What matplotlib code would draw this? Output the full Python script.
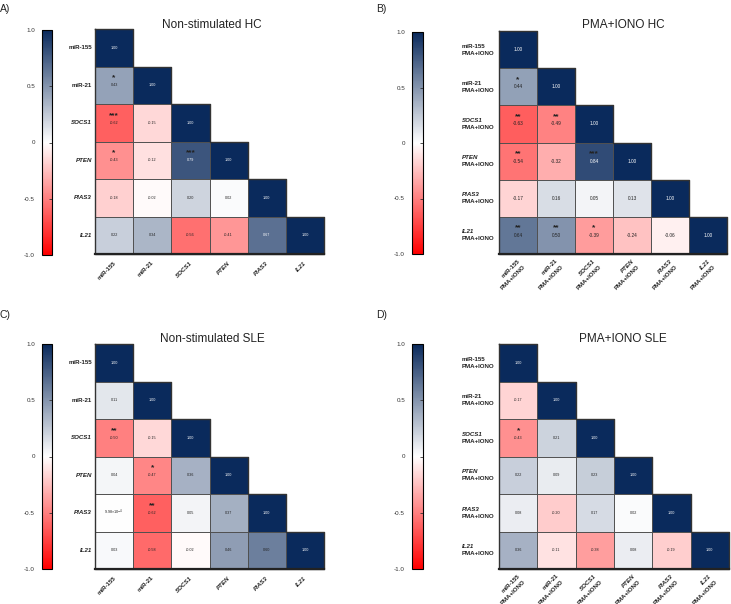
import numpy as np
import matplotlib
matplotlib.use("Agg")
import matplotlib.pyplot as plt
from matplotlib.colors import LinearSegmentedColormap
from matplotlib.patches import Rectangle
from matplotlib.transforms import offset_copy
import matplotlib.cm as cm

plt.rcParams['font.family'] = ['Liberation Sans', 'DejaVu Sans']

genes = ["miR-155", "miR-21", "SOCS1", "PTEN", "PIAS3", "IL21"]
italic_genes = ["SOCS1", "PTEN", "PIAS3", "IL21"]

# lower triangle, row by row (row gene vs column gene)
hc_rest = [
    [1.00],
    [0.43, 1.00],
    [-0.62, -0.15, 1.00],
    [-0.43, -0.12, 0.79, 1.00],
    [-0.18, -0.02, 0.20, 0.02, 1.00],
    [0.22, 0.34, -0.56, -0.41, 0.67, 1.00],
]
hc_rest_stars = [
    [""],
    ["*", ""],
    ["***", "", ""],
    ["*", "", "***", ""],
    ["", "", "", "", ""],
    ["", "", "", "", "", ""],
]
hc_pma = [
    [1.00],
    [0.44, 1.00],
    [-0.63, -0.49, 1.00],
    [-0.54, -0.32, 0.84, 1.00],
    [-0.17, 0.16, 0.05, 0.13, 1.00],
    [0.64, 0.50, -0.39, -0.24, -0.06, 1.00],
]
hc_pma_stars = [
    [""],
    ["*", ""],
    ["**", "**", ""],
    ["**", "", "***", ""],
    ["", "", "", "", ""],
    ["**", "**", "*", "", "", ""],
]
sle_rest = [
    [1.00],
    [0.11, 1.00],
    [-0.50, -0.15, 1.00],
    [0.04, -0.47, 0.36, 1.00],
    [9.98e-4, -0.62, 0.05, 0.37, 1.00],
    [0.03, -0.58, -0.02, 0.46, 0.60, 1.00],
]
sle_rest_stars = [
    [""],
    ["", ""],
    ["**", "", ""],
    ["", "*", "", ""],
    ["", "**", "", "", ""],
    ["", "", "", "", "", ""],
]
sle_pma = [
    [1.00],
    [-0.17, 1.00],
    [-0.43, 0.21, 1.00],
    [0.22, 0.09, 0.23, 1.00],
    [0.08, -0.20, 0.17, 0.02, 1.00],
    [0.36, -0.11, -0.38, 0.08, -0.19, 1.00],
]
sle_pma_stars = [
    [""],
    ["", ""],
    ["*", "", ""],
    ["", "", "", ""],
    ["", "", "", "", ""],
    ["", "", "", "", "", ""],
]

W, H = 731, 604
fig = plt.figure(figsize=(W / 100, H / 100), dpi=100)
cmap = LinearSegmentedColormap.from_list("rwb", ["#ff0000", "#ffffff", "#0a2a5c"])


def px_axes(x, y, w, h):
    return fig.add_axes([x / W, 1 - (y + h) / H, w / W, h / H])


def fmt(v):
    if v != 0 and abs(v) < 0.005:
        m, e = f"{v:.2e}".split("e")
        return f"{m}×10$^{{{int(e)}}}$"
    return f"{v:.2f}"


def panel(letter, title, vals, stars, cbar_box, heat_box, title_xy, letter_xy,
          stim=False, numsize=2.7):
    n = len(genes)
    M = np.full((n, n), np.nan)
    for i, row in enumerate(vals):
        M[i, :len(row)] = row

    cax = px_axes(*cbar_box)
    sm = cm.ScalarMappable(cmap=cmap, norm=plt.Normalize(-1, 1))
    cb = fig.colorbar(sm, cax=cax)
    cb.set_ticks([-1, -0.5, 0, 0.5, 1])
    cb.set_ticklabels(["-1.0", "-0.5", "0", "0.5", "1.0"])
    cax.tick_params(left=False, right=True, labelleft=True, labelright=False,
                    direction="in", length=2, width=0.6, labelsize=4.5,
                    pad=5, colors="#333333")
    cb.outline.set_linewidth(0.8)

    ax = px_axes(*heat_box)
    ax.pcolormesh(np.arange(n + 1), np.arange(n + 1), np.ma.masked_invalid(M),
                  cmap=cmap, vmin=-1, vmax=1, edgecolors="none")
    ax.set_xlim(0, n)
    ax.set_ylim(n, 0)
    ax.set_axis_off()

    for i in range(n):
        for j in range(i + 1):
            ax.add_patch(Rectangle((j, i), 1, 1, fill=False, edgecolor="#505050",
                                   lw=0.6))

    # staircase outline of the lower triangle
    xs, ys = [0, 0, n], [0, n, n]
    for k in range(n, 0, -1):
        xs += [k, k - 1]
        ys += [k - 1, k - 1]
    ax.plot(xs + [0], ys + [0], color="#333333", lw=1.0, clip_on=False)
    ax.plot([0, n], [n, n], color="#222222", lw=1.6, clip_on=False)

    for i in range(n):
        for j in range(i + 1):
            v = M[i, j]
            tc = "white" if v > 0.66 else "#222222"
            ax.text(j + 0.5, i + 0.5, fmt(v), ha="center", va="center",
                    fontsize=numsize, color=tc)
            if stars[i][j]:
                ax.text(j + 0.5, i + 0.3, stars[i][j], ha="center", va="center",
                        fontsize=6, fontweight="bold", color="#222222")

    for i, g in enumerate(genes):
        style = "italic" if g in italic_genes else "normal"
        if stim:
            ax.text(0, i + 0.5, g, ha="left", va="center", fontsize=4.4,
                    fontweight="bold", fontstyle=style, color="#222222",
                    transform=offset_copy(ax.transData, fig=fig, x=-37 * 0.72,
                                          y=3.5 * 0.72, units="points"))
            ax.text(0, i + 0.5, "PMA+IONO", ha="left", va="center", fontsize=4.4,
                    fontweight="bold", color="#222222",
                    transform=offset_copy(ax.transData, fig=fig, x=-37 * 0.72,
                                          y=-3.5 * 0.72, units="points"))
            ax.text(i + 0.5, n, g, ha="right", va="center", fontsize=4.4,
                    fontweight="bold", fontstyle=style, color="#222222",
                    rotation=45, rotation_mode="anchor",
                    transform=offset_copy(ax.transData, fig=fig, x=1 * 0.72,
                                          y=-6 * 0.72, units="points"))
            ax.text(i + 0.5, n, "PMA+IONO", ha="right", va="center", fontsize=4.4,
                    fontweight="bold", color="#222222",
                    rotation=45, rotation_mode="anchor",
                    transform=offset_copy(ax.transData, fig=fig, x=6.5 * 0.72,
                                          y=-11.5 * 0.72, units="points"))
        else:
            ax.text(0, i + 0.5, g, ha="right", va="center", fontsize=4.4,
                    fontweight="bold", fontstyle=style, color="#222222",
                    transform=offset_copy(ax.transData, fig=fig, x=-3 * 0.72,
                                          y=0, units="points"))
            ax.text(i + 0.5, n, g, ha="right", va="center", fontsize=4.4,
                    fontweight="bold", fontstyle=style, color="#222222",
                    rotation=45, rotation_mode="anchor",
                    transform=offset_copy(ax.transData, fig=fig, x=1 * 0.72,
                                          y=-8 * 0.72, units="points"))

    fig.text(title_xy[0] / W, 1 - title_xy[1] / H, title, ha="center",
             va="center", fontsize=8.5, color="#222222")
    fig.text(letter_xy[0] / W, 1 - letter_xy[1] / H, letter, ha="left",
             va="center", fontsize=7.5, color="#222222")


panel("A)", "Non-stimulated HC", hc_rest, hc_rest_stars,
      (42, 30, 10, 225), (95, 29, 229, 225), (212, 25), (0, 9))
panel("B)", "PMA+IONO HC", hc_pma, hc_pma_stars,
      (412, 32, 11, 222), (499, 31, 228, 223), (623, 25), (376, 9),
      stim=True, numsize=3.4)
panel("C)", "Non-stimulated SLE", sle_rest, sle_rest_stars,
      (42, 344, 10, 225), (95, 344, 229, 225), (212, 339), (0, 315))
panel("D)", "PMA+IONO SLE", sle_pma, sle_pma_stars,
      (412, 344, 11, 225), (499, 344, 230, 225), (623, 339), (376, 315),
      stim=True)

fig.savefig("out.png", dpi=100)
